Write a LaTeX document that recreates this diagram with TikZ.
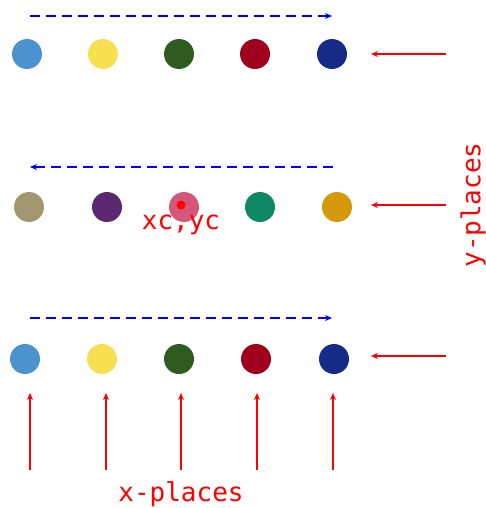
\documentclass[tikz,border=0pt]{standalone}
\usepackage{fontspec}
\setmonofont{DejaVu Sans Mono}
\usetikzlibrary{arrows.meta}
\definecolor{cA}{HTML}{4A93CE}
\definecolor{cB}{HTML}{F7E04F}
\definecolor{cC}{HTML}{2F5B20}
\definecolor{cD}{HTML}{A0001C}
\definecolor{cE}{HTML}{162A88}
\definecolor{cF}{HTML}{A29870}
\definecolor{cG}{HTML}{5C2870}
\definecolor{cH}{HTML}{D4577A}
\definecolor{cI}{HTML}{0F8866}
\definecolor{cJ}{HTML}{D49A0C}
\begin{document}
\begin{tikzpicture}[x=1pt, y=-1pt,
    dot/.style = {circle, minimum size=30pt, inner sep=0pt},
    lbl/.style = {text=red, inner sep=0pt, font=\fontsize{26}{29}\selectfont\ttfamily},
    sweep/.style = {blue, line width=1.6pt, dash pattern=on 10pt off 6pt, -{Stealth[length=7pt,width=6pt]}},
    place/.style = {red, line width=1.6pt, -{Stealth[length=7pt,width=6pt]}}]
            \useasboundingbox (0,0) rectangle (486,508);
            % Points
            \node[dot, fill=cA] (a1) at (27,54)  {};
            \node[dot, fill=cB] (a2) at (103,54) {};
            \node[dot, fill=cC] (a3) at (179,54) {};
            \node[dot, fill=cD] (a4) at (255,54) {};
            \node[dot, fill=cE] (a5) at (332,54) {};

            \node[dot, fill=cF] (b1) at (29,207)  {};
            \node[dot, fill=cG] (b2) at (107,207) {};
            \node[dot, fill=cH] (b3) at (184,207) {};
            \node[dot, fill=cI] (b4) at (260,207) {};
            \node[dot, fill=cJ] (b5) at (337,207) {};

            \node[dot, fill=cA] (c1) at (25,359)  {};
            \node[dot, fill=cB] (c2) at (102,359) {};
            \node[dot, fill=cC] (c3) at (179,359) {};
            \node[dot, fill=cD] (c4) at (256,359) {};
            \node[dot, fill=cE] (c5) at (334,359) {};

            \node[circle, fill=red, minimum size=9pt, inner sep=0pt] (ctr) at (181,205) {};
            \node[lbl] (ctrlbl) at (181,225) {xc,yc};

            % Labels
            \node[lbl] (xp) at (181,494) {x-places};
            \node[lbl, rotate=90] (yp) at (473,205) {y-places};

            % Coordinates
            \coordinate (s1) at (30,16);  \coordinate (e1) at (332,16);
            \coordinate (s2) at (333,167); \coordinate (e2) at (30,167);
            \coordinate (s3) at (30,318); \coordinate (e3) at (332,318);

            \coordinate (r1) at (446,54);  \coordinate (q1) at (371,54);
            \coordinate (r2) at (446,205); \coordinate (q2) at (371,205);
            \coordinate (r3) at (446,356); \coordinate (q3) at (371,356);

            \coordinate (u1) at (30,470);  \coordinate (v1) at (30,393);
            \coordinate (u2) at (106,470); \coordinate (v2) at (106,393);
            \coordinate (u3) at (181,470); \coordinate (v3) at (181,393);
            \coordinate (u4) at (257,470); \coordinate (v4) at (257,393);
            \coordinate (u5) at (333,470); \coordinate (v5) at (333,393);

            % Arrows
            \draw[sweep] (s1) -- (e1);
            \draw[sweep] (s2) -- (e2);
            \draw[sweep] (s3) -- (e3);

            \draw[place] (r1) -- (q1);
            \draw[place] (r2) -- (q2);
            \draw[place] (r3) -- (q3);

            \draw[place] (u1) -- (v1);
            \draw[place] (u2) -- (v2);
            \draw[place] (u3) -- (v3);
            \draw[place] (u4) -- (v4);
            \draw[place] (u5) -- (v5);
\end{tikzpicture}
\end{document}
